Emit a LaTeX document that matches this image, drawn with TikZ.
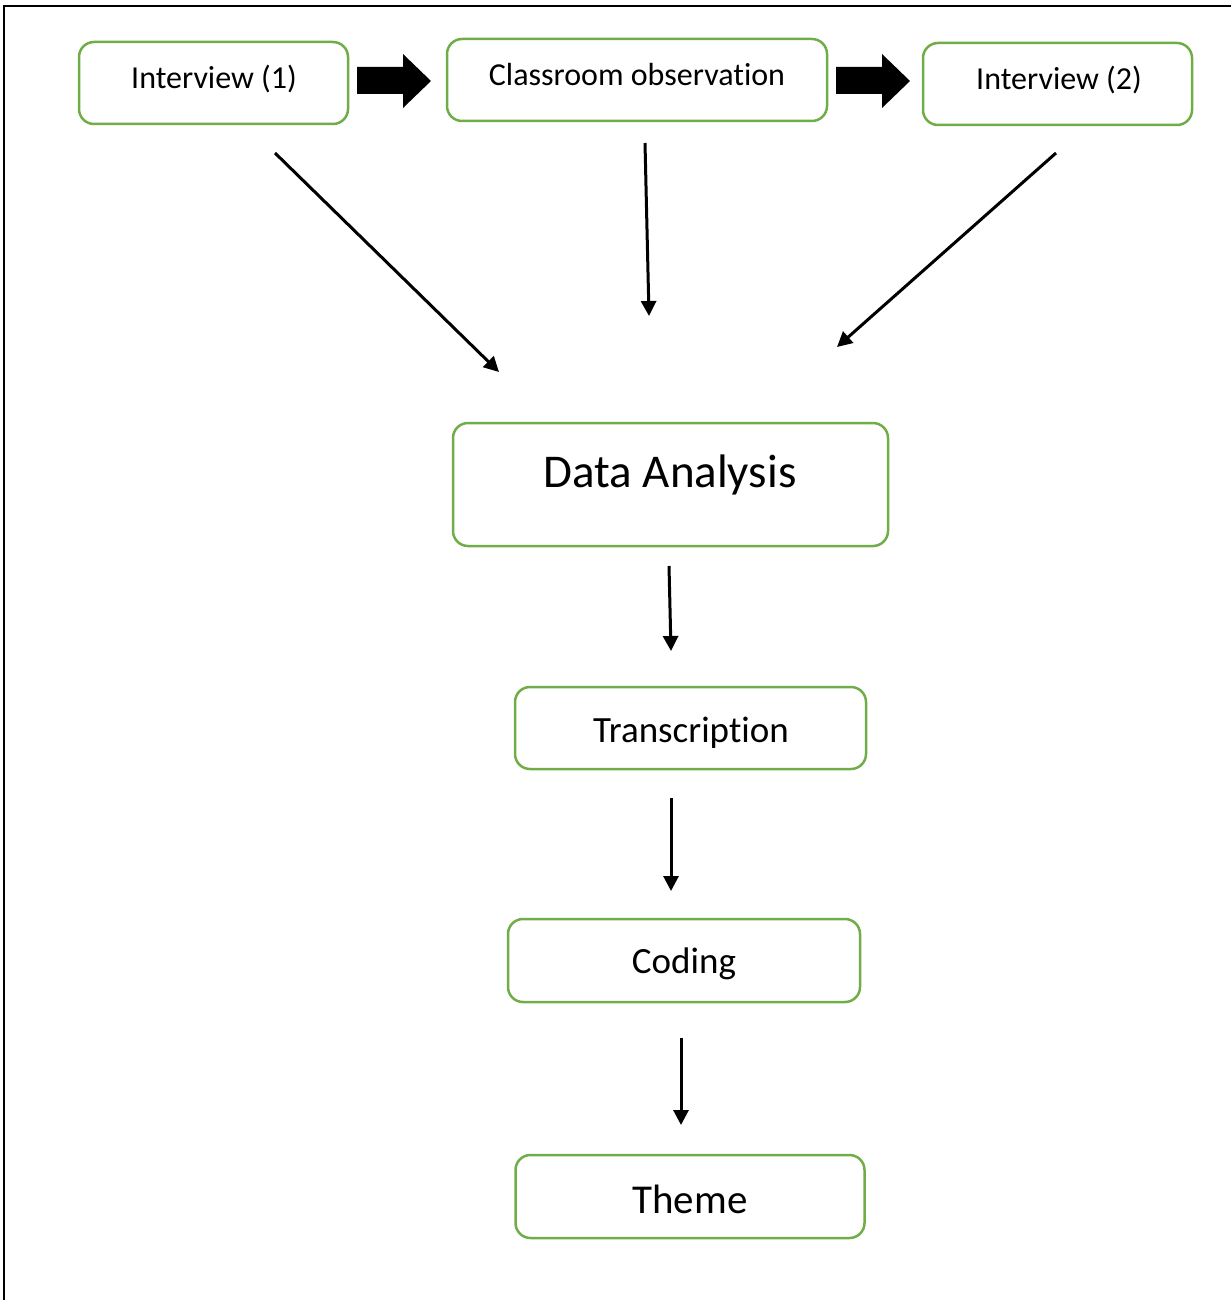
\documentclass[tikz,border=0pt]{standalone}
\usepackage{fontspec}
\setmainfont{Carlito}[RawFeature={-liga;-clig;-dlig}]
\usetikzlibrary{arrows.meta}
\definecolor{boxgreen}{HTML}{70AD47}
\begin{document}
\begin{tikzpicture}[x=1pt,y=-1pt,
  stagebox/.style={draw=boxgreen, line width=2.5pt, rounded corners=15pt, inner sep=0pt},
  lbl/.style={anchor=base, inner sep=0pt, text=black},
  flow/.style={line width=3pt, -{Triangle[length=15pt,width=15pt]}},
  blockarrow/.style={fill=black}]
\useasboundingbox (0,0) rectangle (1231,1300);
% frame
\draw[line width=2pt] (1231,5.7) -- (4.3,5.7) -- (4.3,1300);
% boxes
\node[stagebox, minimum width=269pt, minimum height=82pt] (i1box) at (213.5,83) {};
\node[stagebox, minimum width=380pt, minimum height=82pt] (cobox) at (637,80) {};
\node[stagebox, minimum width=269pt, minimum height=82pt] (i2box) at (1057.5,84) {};
\node[stagebox, minimum width=435pt, minimum height=123pt] (dabox) at (670.5,484.5) {};
\node[stagebox, minimum width=351pt, minimum height=82pt] (trbox) at (690.5,728) {};
\node[stagebox, minimum width=352pt, minimum height=83pt] (cdbox) at (684,960.5) {};
\node[stagebox, minimum width=349pt, minimum height=83pt] (thbox) at (690,1196.5) {};
% labels
\node[lbl, font=\fontsize{32}{38}\selectfont] (i1) at (214,89) {Interview (1)};
\node[lbl, font=\fontsize{32}{38}\selectfont] (co) at (637,86) {Classroom observation};
\node[lbl, font=\fontsize{32}{38}\selectfont] (i2) at (1059,90) {Interview (2)};
\node[lbl, font=\fontsize{47}{56}\selectfont] (da) at (670,487) {Data Analysis};
\node[lbl, font=\fontsize{37}{44}\selectfont] (tr) at (691,742) {Transcription};
\node[lbl, font=\fontsize{37}{44}\selectfont] (cd) at (684,973) {Coding};
\node[lbl, font=\fontsize{41}{49}\selectfont] (th) at (690,1213) {Theme};
% block arrows
\fill[blockarrow] (357,67) -- (403,67) -- (403,54) -- (431,81) -- (403,108) -- (403,94) -- (357,94) -- cycle;
\fill[blockarrow] (836,67) -- (882,67) -- (882,54) -- (910,81) -- (882,108) -- (882,94) -- (836,94) -- cycle;
% flow arrows
\coordinate (a1s) at (275,153); \coordinate (a1e) at (499,372);
\coordinate (a2s) at (645,143); \coordinate (a2e) at (649,316);
\coordinate (a3s) at (1056,153); \coordinate (a3e) at (837,347);
\coordinate (a4s) at (669,566); \coordinate (a4e) at (671,651);
\coordinate (a5s) at (671,798); \coordinate (a5e) at (671,891);
\coordinate (a6s) at (681,1038); \coordinate (a6e) at (681,1125);
\draw[flow] (a1s) -- (a1e);
\draw[flow] (a2s) -- (a2e);
\draw[flow] (a3s) -- (a3e);
\draw[flow] (a4s) -- (a4e);
\draw[flow] (a5s) -- (a5e);
\draw[flow] (a6s) -- (a6e);
\end{tikzpicture}
\end{document}
